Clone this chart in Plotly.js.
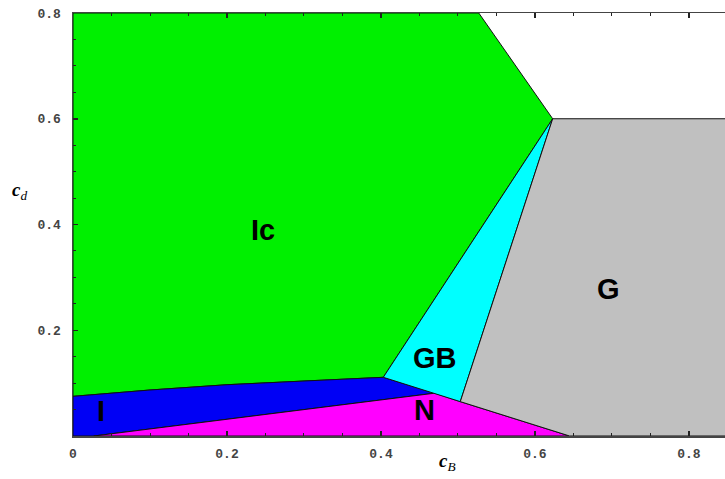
<!DOCTYPE html>
<html>
<head>
<meta charset="utf-8">
<script src="https://cdn.plot.ly/plotly-3.0.1.min.js"></script>
<style>html,body{margin:0;padding:0;background:#fff;}#chart{width:725px;height:479px;}</style>
</head>
<body>
<div id="chart"></div>
<script>
// Phase regions (c_B, c_d) polygon vertices
var regionNames = ["Ic", "I", "N", "GB", "G"];
var regionColors = ["#00f000", "#0000f5", "#ff00ff", "#00ffff", "#c0c0c0"];

var icX = [0, 0.1, 0.2, 0.3, 0.403, 0.623, 0.527, 0];
var icY = [0.075, 0.087, 0.097, 0.104, 0.111, 0.600, 0.800, 0.800];

var iX = [0, 0.027, 0.470, 0.403, 0.3, 0.2, 0.1, 0];
var iY = [0, 0, 0.081, 0.111, 0.104, 0.097, 0.087, 0.075];

var nX = [0.027, 0.645, 0.503, 0.470];
var nY = [0, 0, 0.065, 0.081];

var gbX = [0.403, 0.470, 0.503, 0.623];
var gbY = [0.111, 0.081, 0.065, 0.600];

var gX = [0.623, 0.90, 0.90, 0.645, 0.503];
var gY = [0.600, 0.600, 0, 0, 0.065];

// Region label positions
var labelText = ["Ic", "I", "N", "GB", "G"];
var labelX = [0.247, 0.036, 0.457, 0.470, 0.696];
var labelY = [0.390, 0.048, 0.050, 0.148, 0.278];

// Axis ticks
var xTickVals = [0, 0.2, 0.4, 0.6, 0.8];
var xTickText = ["0", "0.2", "0.4", "0.6", "0.8"];
var yTickVals = [0.2, 0.4, 0.6, 0.8];
var yTickText = ["0.2", "0.4", "0.6", "0.8"];

var polysX = [icX, iX, nX, gbX, gX];
var polysY = [icY, iY, nY, gbY, gY];

var traces = polysX.map(function (px, i) {
  return {
    type: "scatter",
    mode: "lines",
    x: px.concat([px[0]]),
    y: polysY[i].concat([polysY[i][0]]),
    fill: "toself",
    fillcolor: regionColors[i],
    line: {color: "#111", width: 1},
    name: regionNames[i],
    hoverinfo: "name",
    showlegend: false
  };
});

var annotations = labelText.map(function (t, i) {
  return {
    x: labelX[i], y: labelY[i], xref: "x", yref: "y",
    text: "<b>" + t + "</b>", showarrow: false,
    font: {family: "Liberation Sans, Arial, sans-serif", size: 29, color: "#000"}
  };
});
annotations.push({
  xref: "paper", yref: "paper", x: -0.082, y: 0.58, xanchor: "center", yanchor: "middle",
  text: "<b><i>c</i></b><sub><i>d</i></sub>", showarrow: false,
  font: {family: "Liberation Serif, Times New Roman, serif", size: 19, color: "#000"}
});
annotations.push({
  xref: "paper", yref: "paper", x: 0.575, y: -0.062, xanchor: "center", yanchor: "middle",
  text: "<b><i>c</i></b><sub><i>B</i></sub>", showarrow: false,
  font: {family: "Liberation Serif, Times New Roman, serif", size: 19, color: "#000"}
});

var tickFont = {family: "Liberation Mono, DejaVu Sans Mono, monospace", size: 13, color: "#444", weight: "bold"};

var layout = {
  width: 725, height: 479,
  margin: {l: 73, r: 0, t: 13, b: 43, pad: 0},
  paper_bgcolor: "#fff", plot_bgcolor: "#fff",
  showlegend: false,
  xaxis: {
    range: [0, 0.8468], showgrid: false, zeroline: false,
    showline: true, linecolor: "#444", linewidth: 1.5, mirror: "ticks",
    ticks: "inside", ticklen: 5, tickcolor: "#222", tickwidth: 1.5,
    tickvals: xTickVals, ticktext: xTickText, tickfont: tickFont,
    minor: {dtick: 0.05, tick0: 0, ticks: "inside", ticklen: 3, tickcolor: "#222", tickwidth: 1},
    ticklabelstandoff: 5
  },
  yaxis: {
    range: [0, 0.8], showgrid: false, zeroline: false,
    showline: true, linecolor: "#444", linewidth: 1.5, mirror: false,
    ticks: "inside", ticklen: 5, tickcolor: "#222", tickwidth: 1.5,
    tickvals: yTickVals, ticktext: yTickText, tickfont: tickFont,
    minor: {dtick: 0.05, tick0: 0, ticks: "inside", ticklen: 3, tickcolor: "#222", tickwidth: 1},
    ticklabelstandoff: 8
  },
  annotations: annotations
};

Plotly.newPlot("chart", traces, layout, {displayModeBar: false, staticPlot: true});
</script>
</body>
</html>
